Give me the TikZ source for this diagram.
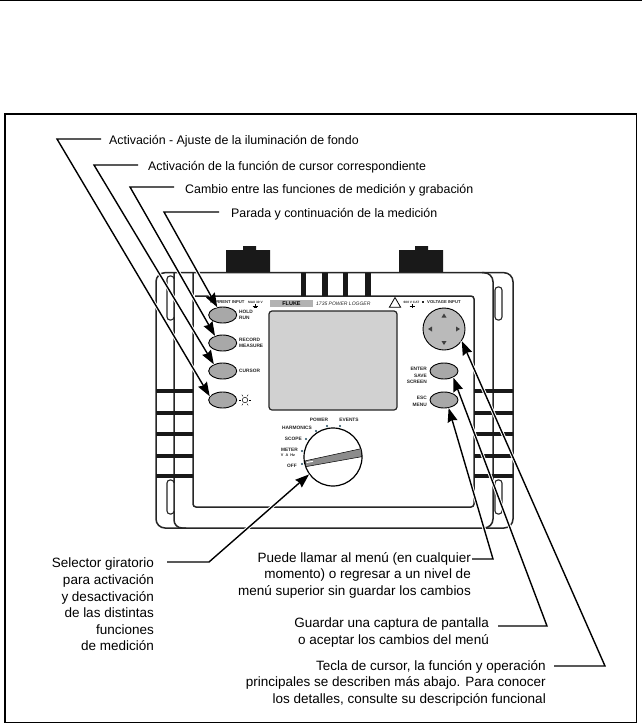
\documentclass[tikz,border=0pt]{standalone}
\usepackage{fontspec}
\setmainfont{Liberation Sans}
\usetikzlibrary{arrows.meta,shapes.geometric}
\definecolor{keygray}{gray}{0.66}
\definecolor{screengray}{gray}{0.82}
\definecolor{dotblue}{HTML}{1F4A5F}
\tikzset{
  txt/.style={inner sep=0pt,font=\fontsize{12.4}{16.6}\selectfont,text=black},
  txtb/.style={inner sep=0pt,font=\fontsize{13.5}{16.6}\selectfont,text=black},
  lead/.style={line width=1.4pt,-{Stealth[length=14pt,width=10pt,inset=1.5pt]},
     preaction={draw=white,line width=3.4pt,-}},
  body/.style={draw=black!85,line width=1.5pt},
  bar/.style={fill=black!90,draw=none},
  slot/.style={draw=black!85,line width=1.1pt,rounded corners=3pt,fill=white},
  key/.style={ellipse,draw=black,line width=.9pt,fill=keygray,minimum width=28pt,minimum height=16pt,inner sep=0pt},
  tiny/.style={inner sep=0pt,font=\fontsize{4.8}{6}\selectfont\bfseries,text=black!85},
  dotmark/.style={circle,fill=dotblue,minimum size=2.4pt,inner sep=0pt},
  tri/.style={fill=black!75,draw=none}
}
\begin{document}
\begin{tikzpicture}[x=1pt,y=-1pt]
\useasboundingbox (0,0) rectangle (642,724);
\fill[white] (0,0) rectangle (642,724);
% page rule and frame
\draw[line width=1.3pt,black] (0,0.6) -- (642,0.6);
\draw[line width=1.5pt,black] (5,114) rectangle (636.5,722.5);
% connectors on top of device housing
\fill[black!90] (226,250) rectangle (270,272) (243,246) rectangle (256,250);
\fill[black!90] (399,250) rectangle (443,272) (415,246) rectangle (428,250);
% housing
\draw[body,rounded corners=9pt] (300,272.7) -- (156,272.7) -- (156,528) -- (513,528) -- (513,272.7) -- (300,272.7);
\draw[body,rounded corners=8pt] (174,272.7) -- (174,528) -- (186,528);
\draw[body,rounded corners=9pt] (482,272.7) -- (493,272.7) -- (493,528) -- (482,528);
\draw[body,rounded corners=3pt] (193,272.7) -- (193,507) -- (474,507) -- (474,296) -- (195,296);
\foreach \xa/\xb in {301/306,322/328,343/348,365/371}
  \fill[bar] (\xa,273) rectangle (\xb,296);
\foreach \yy in {391,413,434,456,476}{
  \fill[bar] (156,\yy-2.3) rectangle (193,\yy+2.3);
  \fill[bar] (474,\yy-2.3) rectangle (513,\yy+2.3);
}
\draw[slot] (167,276) rectangle (174,320);
\draw[slot] (167,480) rectangle (174,514);
\draw[slot] (495,287) rectangle (502,320);
\draw[slot] (495,480) rectangle (502,514);
% screen
\draw[draw=black!85,line width=1.2pt,fill=screengray,rounded corners=3pt] (269,311) rectangle (397,410);
% left keys
\node[key] (btn1) at (222.7,315) {};
\node[key] (btn2) at (222.7,343) {};
\node[key] (btn3) at (222.7,371) {};
\node[key] (btn4) at (222.7,400) {};
\node[tiny,anchor=west,align=left] (holdtxt) at (239,315) {HOLD\\RUN};
\node[tiny,anchor=west,align=left] (rectxt) at (239,343) {RECORD\\MEASURE};
\node[tiny,anchor=west] (curtxt) at (239,371) {CURSOR};
\node[circle,draw=black,line width=.5pt,minimum size=5.5pt,inner sep=0pt] (sun) at (245,400) {};
\foreach \a in {0,60,...,300}
  \draw[line width=.45pt,black] (\a:4.2pt) ++(245,400) -- ++(\a:2pt);
% header
\node[tiny,anchor=west,font=\fontsize{4.2}{6}\selectfont\bfseries] (curinp) at (210,302) {CURRENT INPUT};
\node[tiny,anchor=west,font=\fontsize{3.2}{4}\selectfont\bfseries] (maxv) at (248,302) {MAX 30 V};
\draw[line width=.4pt] (255,304) -- (255,308) (252.5,306) -- (257.5,306) (253.5,307.5) -- (256.5,307.5);
\node[fill=black!30,minimum width=43pt,minimum height=7pt,inner sep=0pt,font=\fontsize{5.5}{6}\selectfont\bfseries] (fluke) at (291.5,303.5) {FLUKE};
\node[tiny,anchor=west,font=\fontsize{5}{6}\selectfont\itshape] (model) at (316,303.5) {1735 POWER LOGGER};
\node[regular polygon,regular polygon sides=3,draw=black,line width=.8pt,inner sep=0pt,minimum size=13pt,fill=white] (warn) at (395,304) {};
\node[tiny,font=\fontsize{3.2}{4}\selectfont\bfseries] (catt) at (411.5,302) {600 V CAT};
\fill[black!85] (421.5,300.8) rectangle (424,303.2);
\draw[line width=.4pt] (412,304) -- (412,308) (409.5,306) -- (414.5,306);
\node[tiny,anchor=west,font=\fontsize{4.2}{5}\selectfont\bfseries] (volt) at (427,302) {VOLTAGE INPUT};
% d-pad
\node[circle,draw=black,line width=.9pt,fill=black!27,minimum size=42pt,inner sep=0pt] (pad) at (444,329) {};
\fill[tri] (444,313.5) -- (441.5,317.5) -- (446.5,317.5) -- cycle;
\fill[tri] (444,345) -- (441.5,341) -- (446.5,341) -- cycle;
\fill[tri] (428,329) -- (432,326.5) -- (432,331.5) -- cycle;
\fill[tri] (460,329) -- (456,326.5) -- (456,331.5) -- cycle;
% right keys
\node[key] (enter) at (444,371) {};
\node[key] (esc) at (444,400) {};
\node[tiny,anchor=east,align=right] (entertxt) at (427,375.5) {ENTER\\[.6pt]SAVE\\SCREEN};
\node[tiny,anchor=east,align=right] (esctxt) at (427,401.5) {ESC\\[1pt]MENU};
% dial
\node[circle,draw=black,line width=1.2pt,fill=white,minimum size=58pt,inner sep=0pt] (dial) at (333,457) {};
\fill[black!45,draw=black,line width=.5pt] (305.7,460.7) -- (361,448.7) -- (361.7,456.7) -- (305.7,466.7) -- cycle;
\draw[white,line width=1pt] (306.5,462.5) -- (313,461.3);
\node[tiny] (power) at (319,420) {POWER};
\node[tiny] (events) at (349,420) {EVENTS};
\node[tiny,anchor=east] (harm) at (312,428) {HARMONICS};
\node[tiny,anchor=east] (scope) at (302,439) {SCOPE};
\node[tiny,anchor=east] (meter) at (298,450) {METER};
\node[tiny,font=\fontsize{3.8}{5}\selectfont\bfseries] (vah) at (288,455.3) {V\ \ A\ \ Hz};
\node[tiny,anchor=east] (off) at (297,466) {OFF};
\foreach \n/\p in {a/{316,431},b/{327,426},c/{340,426},d/{306,439},e/{302,451},f/{302,464}}
  \node[dotmark] (dot\n) at (\p) {};
% labels
\node[txt,anchor=base west] (t1) at (109,144) {Activación - Ajuste de la iluminación de fondo};
\node[txt,anchor=base west] (t2) at (148,170) {Activación de la función de cursor correspondiente};
\node[txt,anchor=base west] (t3) at (185,193) {Cambio entre las funciones de medición y grabación};
\node[txt,anchor=base west] (t4) at (231,217) {Parada y continuación de la medición};
\node[txtb,anchor=north east,align=right] (t5) at (154,558) {Selector giratorio\hspace{4pt}\\para activación\hspace{5pt}\\y desactivación\hspace{4pt}\\de las distintas\\funciones\\de medición};
\node[txtb,anchor=north east,align=right] (t6) at (471,552) {Puede llamar al menú (en cualquier\\momento) o regresar a un nivel de\hspace{1pt}\\menú superior sin guardar los cambios\hspace{1pt}};
\node[txtb,anchor=north east,align=right] (t7) at (489,618) {Guardar una captura de pantalla\\o aceptar los cambios del menú\hspace{1pt}};
\node[txtb,anchor=north east,align=right] (t8) at (546,660) {Tecla de cursor, la función y operación\\principales se describen más abajo. Para conocer\hspace{8pt}\\los detalles, consulte su descripción funcional\hspace{8pt}};
% connectors
\coordinate (s1) at (101,139); \coordinate (k1) at (57,139);
\coordinate (s2) at (138,165); \coordinate (k2) at (94,165);
\coordinate (s3) at (174,187); \coordinate (k3) at (130,187);
\coordinate (s4) at (219,212); \coordinate (k4) at (164,212);
\coordinate (s5) at (167,562); \coordinate (k5) at (209,562);
\coordinate (s6) at (472,559); \coordinate (k6) at (493,559);
\coordinate (s7) at (498,626); \coordinate (k7) at (547,626);
\coordinate (s8) at (554,666); \coordinate (k8) at (605,666);
\draw[lead] (s1) -- (k1) -- (btn4.164);
\draw[lead] (s2) -- (k2) -- (btn3.143);
\draw[lead] (s3) -- (k3) -- (btn2.137);
\draw[lead] (s4) -- (k4) -- (btn1.125);
\draw[lead] (s5) -- (k5) -- (dial.216);
\draw[lead] (s6) -- (k6) -- (esc.-60);
\draw[lead] (s7) -- (k7) -- (enter.-35);
\draw[lead] (s8) -- (k8) -- (pad.-34);
\end{tikzpicture}
\end{document}
